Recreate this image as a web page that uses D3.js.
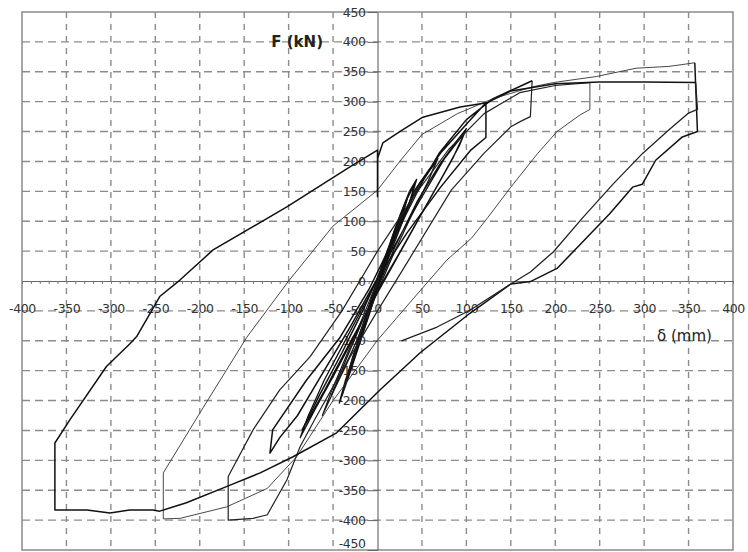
<!DOCTYPE html>
<meta charset="utf-8">
<html lang="en">
<head>
  <title>F - delta hysteresis</title>
  <script src="https://d3js.org/d3.v7.min.js"></script>
  <style>
    body { margin: 0; background: #fff; }
    text { font-family: "DejaVu Sans", sans-serif; }
  </style>
</head>
<body>
<svg width="748" height="552"></svg>
<script>

// tick labels
var xTicks = [-400, -350, -300, -250, -200, -150, -100, -50, 0, 50, 100, 150, 200, 250, 300, 350, 400]
var yTicks = [-450, -400, -350, -300, -250, -200, -150, -100, -50, 0, 50, 100, 150, 200, 250, 300, 350, 400, 450]

// cycles, [delta mm, F kN]
var cycle15 = [[0,0],[6,30],[14,62],[10,42],[3,10],[-5,-28],[-13,-62],[-9,-40],[-2,-8],[6,26],[15,66]]
var cycle25 = [[15,66],[21,92],[26,112],[21,85],[11,42],[0,-6],[-12,-58],[-24,-112],[-19,-84],[-8,-36],[4,18],[15,64],[27,116]]
var cycle35 = [[27,116],[35,146],[29,114],[17,64],[4,8],[-10,-58],[-22,-110],[-34,-162],[-28,-128],[-15,-72],[-1,-8],[13,52],[25,104],[36,150]]
var cycle45 = [[36,150],[44,170],[37,134],[24,84],[9,26],[-6,-40],[-20,-104],[-32,-158],[-43,-204],[-36,-166],[-23,-108],[-9,-44],[5,22],[19,84],[32,134],[42,162],[35,126],[21,72],[7,18],[-9,-54],[-24,-122],[-40,-192]]
var cycle65 = [[-40,-192],[-28,-130],[-12,-58],[5,20],[25,100],[48,165],[68,205],[58,170],[40,115],[18,45],[-5,-35],[-28,-115],[-48,-180],[-62,-225],[-52,-185],[-35,-125],[-15,-55],[8,30],[30,105],[52,170],[66,200],[55,160],[35,100],[12,25],[-12,-60],[-35,-140],[-52,-192]]
var cycle100 = [[-52,-192],[-35,-130],[-15,-60],[0,-12],[20,58],[45,134],[70,195],[90,236],[100,255],[92,226],[75,180],[50,114],[25,48],[0,-16],[-25,-90],[-50,-160],[-70,-214],[-87,-262],[-78,-226],[-60,-166],[-35,-96],[-10,-26],[15,48],[45,128],[75,204],[98,248],[85,206],[60,140],[30,60],[0,-20],[-30,-100],[-60,-184],[-85,-250]]
var cycle120 = [[-85,-250],[-65,-190],[-40,-120],[-15,-45],[10,40],[41,150],[71,214],[101,264],[122,298],[122,240],[105,219],[71,157],[33,80],[0,5],[-30,-75],[-60,-150],[-90,-225],[-110,-262],[-121,-288],[-118,-249],[-80,-166],[-42,-94],[-10,-15],[15,60],[40,140],[70,215],[100,270],[130,305],[174,335]]
var cycle175 = [[174,335],[172,275],[161,267],[150,258],[120,214],[83,152],[33,30],[0,-50],[-40,-150],[-70,-230],[-87,-277],[-102,-333],[-124,-391],[-140,-397],[-168,-400],[-168,-327],[-140,-249],[-110,-182],[-76,-127],[-40,-50],[0,50],[40,140],[80,220],[120,280],[160,315],[200,327],[239,332]]
var cycle240 = [[239,332],[239,287],[228,278],[202,250],[180,213],[150,157],[124,106],[106,72],[78,35],[40,-30],[0,-99],[-50,-200],[-91,-294],[-124,-347],[-170,-378],[-222,-397],[-241,-398],[-241,-321],[-200,-221],[-147,-94],[-100,0],[-50,92],[0,152],[25,200],[50,245],[90,280],[130,305],[175,325],[198,332],[246,342],[291,356],[328,359],[357,365]]
var cycle360a = [[357,365],[360,250],[343,241],[313,202],[298,162],[287,157],[261,112],[228,61],[202,21],[172,-1],[150,-5],[104,-54],[48,-120],[3,-182],[-46,-254],[-95,-294],[-132,-321],[-170,-344],[-215,-371],[-245,-385],[-253,-383],[-279,-383],[-301,-388],[-327,-383],[-363,-383],[-363,-271],[-346,-232],[-305,-143],[-278,-104],[-271,-93],[-245,-26],[-222,2],[-185,52],[-102,124],[-31,191],[0,219],[0,141],[0,205],[6,231],[25,250],[51,274],[93,291],[123,298],[150,318],[200,330],[250,333],[300,333],[358,332]]
var cycle360b = [[358,332],[360,287],[350,281],[328,253],[298,213],[265,162],[231,106],[198,49],[172,15],[150,-5],[104,-49],[67,-77],[27,-100]]

var svg = d3.select('svg')

var x = d3.scaleLinear().domain([-400, 400]).range([22, 733])
var y = d3.scaleLinear().domain([-450, 450]).range([550, 12])

var fmt = function (d) { return String(d) }

// dashed grid
svg.append('g')
  .selectAll('line')
  .data(xTicks.filter(function (d) { return d !== 0 && Math.abs(d) < 400 }))
  .enter().append('line')
    .attr('x1', function (d) { return x(d) })
    .attr('x2', function (d) { return x(d) })
    .attr('y1', y(450)).attr('y2', y(-450))
    .attr('stroke', '#8c8c8c')
    .attr('stroke-width', 1.4)
    .attr('stroke-dasharray', '6,6')

svg.append('g')
  .selectAll('line')
  .data(yTicks.filter(function (d) { return d !== 0 && Math.abs(d) < 450 }))
  .enter().append('line')
    .attr('x1', x(-400)).attr('x2', x(400))
    .attr('y1', function (d) { return y(d) })
    .attr('y2', function (d) { return y(d) })
    .attr('stroke', '#8c8c8c')
    .attr('stroke-width', 1.4)
    .attr('stroke-dasharray', '8,5')

// frame
svg.append('rect')
  .attr('x', x(-400)).attr('y', y(450))
  .attr('width', x(400) - x(-400))
  .attr('height', y(-450) - y(450))
  .attr('fill', 'none')
  .attr('stroke', '#8a8a8a')
  .attr('stroke-width', 1.5)

// x axis: minor ticks, then labels under it
var xMinor = svg.append('g')
  .attr('transform', 'translate(0,' + y(0) + ')')
  .call(d3.axisBottom(x).ticks(80).tickSize(3).tickSizeOuter(0).tickFormat(''))
xMinor.select('.domain').attr('stroke', '#666')
xMinor.selectAll('.tick line').attr('stroke', '#777')

var xLab = svg.append('g')
  .attr('transform', 'translate(0,' + y(0) + ')')
  .call(d3.axisBottom(x).tickValues(xTicks).tickSize(0).tickPadding(23).tickFormat(fmt))
xLab.select('.domain').remove()
xLab.selectAll('text')
  .attr('font-family', 'DejaVu Sans')
  .attr('font-size', 12.5)
  .attr('letter-spacing', -0.4)
  .attr('fill', '#333')

// y axis through x = 0
var yAx = svg.append('g')
  .attr('transform', 'translate(' + x(0) + ',0)')
  .call(d3.axisLeft(y).tickValues(yTicks).tickSize(10).tickSizeOuter(0).tickPadding(2).tickFormat(fmt))
yAx.select('.domain').attr('stroke', '#555')
yAx.selectAll('.tick line').attr('stroke', '#666')
yAx.selectAll('text')
  .attr('font-family', 'DejaVu Sans')
  .attr('font-size', 12.5)
  .attr('letter-spacing', -0.4)
  .attr('fill', '#333')
// bottom label sits on the frame edge; lift it so it stays inside the picture
yAx.selectAll('.tick')
  .filter(function (d) { return d === -450 })
  .select('text').attr('dy', '-0.2em')

// curves
var line = d3.line()
  .x(function (d) { return x(d[0]) })
  .y(function (d) { return y(d[1]) })

var curves = [
  { pts: cycle15, w: 1.6, c: '#111' },
  { pts: cycle25, w: 1.6, c: '#111' },
  { pts: cycle35, w: 1.5, c: '#111' },
  { pts: cycle45, w: 1.4, c: '#111' },
  { pts: cycle65, w: 1.2, c: '#1a1a1a' },
  { pts: cycle100, w: 1.3, c: '#111' },
  { pts: cycle120, w: 1.5, c: '#111' },
  { pts: cycle175, w: 1.2, c: '#222' },
  { pts: cycle240, w: 0.9, c: '#333' },
  { pts: cycle360a, w: 1.5, c: '#111' },
  { pts: cycle360b, w: 1.3, c: '#222' }
]

svg.append('g')
  .selectAll('path')
  .data(curves)
  .enter().append('path')
    .attr('d', function (d) { return line(d.pts) })
    .attr('fill', 'none')
    .attr('stroke', function (d) { return d.c })
    .attr('stroke-width', function (d) { return d.w })
    .attr('stroke-linejoin', 'round')

// axis titles
svg.append('text')
  .attr('x', 323).attr('y', 47)
  .attr('text-anchor', 'end')
  .attr('font-size', 15)
  .attr('font-weight', 'bold')
  .attr('fill', '#222')
  .text('F (kN)')

svg.append('text')
  .attr('x', 657).attr('y', 341)
  .attr('font-size', 15)
  .attr('fill', '#222')
  .text('δ (mm)')

</script>
</body>
